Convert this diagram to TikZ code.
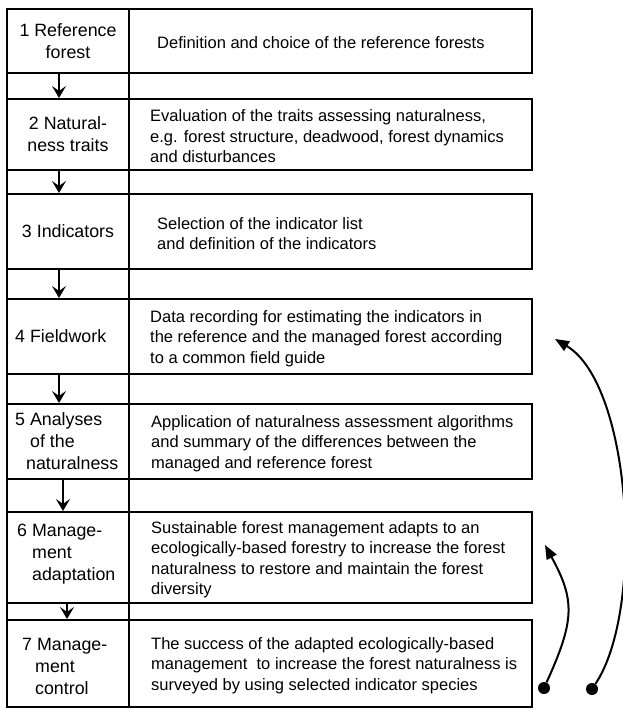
\documentclass[tikz,border=0pt]{standalone}
\usepackage{fontspec}
\setmainfont{Liberation Sans}
\usetikzlibrary{arrows.meta, positioning}

\tikzset{
  cell/.style={draw, line width=2.4pt, inner sep=0pt, outer sep=0pt, anchor=north west},
  lcell/.style={cell, minimum width=122pt, align=center, font=\fontsize{17.8}{22}\selectfont},
  rcell/.style={cell, minimum width=403pt},
  lbl/.style={anchor=west, inner sep=0pt, align=left, font=\fontsize{17.8}{22}\selectfont},
  desc/.style={anchor=west, inner sep=0pt, align=left, yshift=-2pt, font=\fontsize{16.5}{20.5}\selectfont},
  down/.style={-{Stealth[length=12pt,width=14pt,inset=5pt]}, line width=2.6pt, shorten >=1pt},
  back/.style={-{Triangle[length=14pt,width=11pt]}, line width=2pt},
  dot/.style={circle, fill, inner sep=0pt, minimum size=12pt}
}

\begin{document}
\begin{tikzpicture}[x=1pt, y=-1pt]
\useasboundingbox (0,0) rectangle (622,710);
% cells, top to bottom
\node[lcell, minimum height=64pt] (l1) at (7,9)   {1 Reference\\forest};
\node[rcell, minimum height=64pt] (r1) at (129,9) {};
\node[lcell, minimum height=71pt] (l2) at (7,99)   {2 Natural-\\ness traits};
\node[rcell, minimum height=71pt] (r2) at (129,99) {};
\node[lcell, minimum height=75pt] (l3) at (7,194)   {3 Indicators};
\node[rcell, minimum height=75pt] (r3) at (129,194) {};
\node[lcell, minimum height=75pt] (l4) at (7,299)   {};
\node[rcell, minimum height=75pt] (r4) at (129,299) {};
\node[lcell, minimum height=75pt] (l5) at (7,404)   {};
\node[rcell, minimum height=75pt] (r5) at (129,404) {};
\node[lcell, minimum height=91pt] (l6) at (7,512)   {};
\node[rcell, minimum height=91pt] (r6) at (129,512) {};
\node[lcell, minimum height=87pt] (l7) at (7,620)   {};
\node[rcell, minimum height=87pt] (r7) at (129,620) {};
% column lines through the gaps
\draw[line width=2.4pt] (l1.north west) -- (l7.south west);
\draw[line width=2.4pt] (l1.north east) -- (l7.south east);
% left labels
\node[lbl] (n4) at ([xshift=8pt]l4.west) {4 Fieldwork};
\node[lbl] (n5) at ([xshift=8pt]l5.west) {5 Analyses\\\hspace*{15pt}of the\\\hspace*{11pt}naturalness};
\node[lbl, yshift=3pt] (n6) at ([xshift=10pt]l6.west) {6 Manage-\\\hspace*{15pt}ment\\\hspace*{15pt}adaptation};
\node[lbl, yshift=-3pt] (n7) at ([xshift=15pt]l7.west) {7 Manage-\\\hspace*{13pt}ment\\\hspace*{13pt}control};
% descriptions
\node[desc] (t1) at ([xshift=28pt]r1.west) {Definition and choice of the reference forests};
\node[desc] (t2) at ([xshift=21pt]r2.west) {Evaluation of the traits assessing naturalness,\\e.g. forest structure, deadwood, forest dynamics\\and disturbances};
\node[desc] (t3) at ([xshift=28pt]r3.west) {Selection of the indicator list\\and definition of the indicators};
\node[desc] (t4) at ([xshift=21pt]r4.west) {Data recording for estimating the indicators in\\the reference and the managed forest according\\to a common field guide};
\node[desc] (t5) at ([xshift=22pt]r5.west) {Application of naturalness assessment algorithms\\and summary of the differences between the\\managed and reference forest};
\node[desc] (t6) at ([xshift=22pt]r6.west) {Sustainable forest management adapts to an\\ecologically-based forestry to increase the forest\\naturalness to restore and maintain the forest\\diversity};
\node[desc] (t7) at ([xshift=22pt]r7.west) {The success of the adapted ecologically-based\\management\ \ to increase the forest naturalness is\\surveyed by using selected indicator species};
% step arrows
\draw[down] ([xshift=-9pt]l1.south) -- ([xshift=-9pt]l2.north);
\draw[down] ([xshift=-9pt]l2.south) -- ([xshift=-9pt]l3.north);
\draw[down] ([xshift=-9pt]l3.south) -- ([xshift=-9pt]l4.north);
\draw[down] ([xshift=-9pt]l4.south) -- ([xshift=-9pt]l5.north);
\draw[down] ([xshift=-5pt]l5.south) -- ([xshift=-5pt]l6.north);
\draw[down] ([xshift=-1pt]l6.south) -- ([xshift=-1pt]l7.north);
% feedback arrows
\node[dot] (d1) at (544,688) {};
\node[dot] (d2) at (592,689) {};
\coordinate (h1) at (545,545);
\coordinate (h2) at (555,339);
\draw[back] (d1) .. controls (575,620) and (575,600) .. (h1);
\draw[back] (d2) .. controls (645,610) and (632,385) .. (h2);
\end{tikzpicture}
\end{document}
